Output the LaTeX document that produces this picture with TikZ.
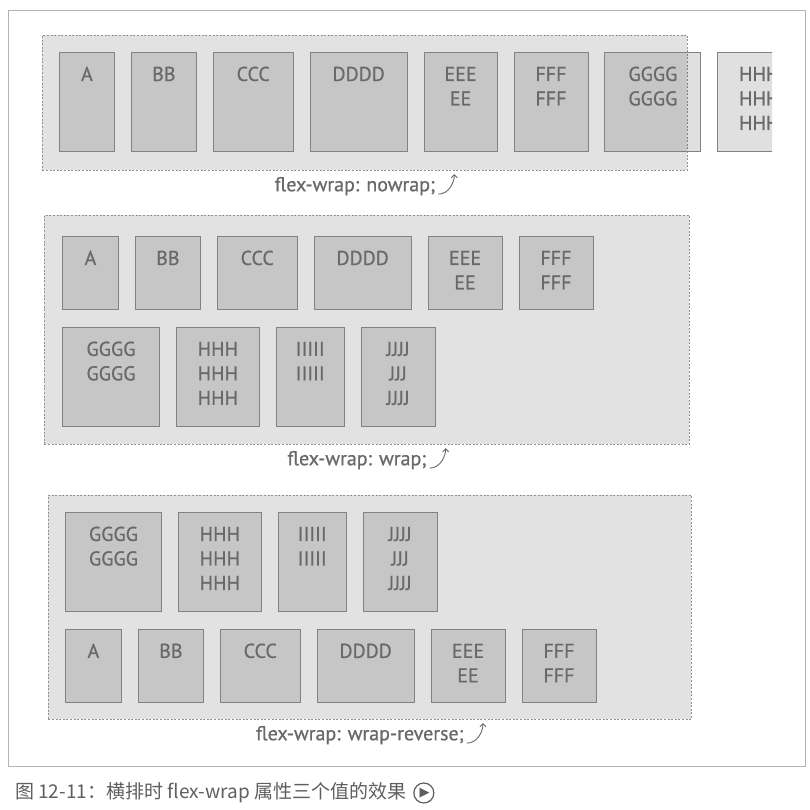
\documentclass[tikz,border=0pt]{standalone}
\usepackage{fontspec}
\setmainfont{PT Sans}
\newfontfamily\boxfont{PT Sans}[FakeBold=0.7]
\newfontfamily\cjkfont{Noto Sans CJK SC}
\newfontfamily\symbfont{DejaVu Sans}
\usepackage{tikz}
\usetikzlibrary{positioning, arrows.meta}

\definecolor{panelgray}{RGB}{226,226,226}
\definecolor{edgegray}{RGB}{130,130,130}
\definecolor{labelgray}{RGB}{105,105,105}
\definecolor{dashgray}{RGB}{145,145,145}
\definecolor{framegray}{RGB}{180,180,180}

\begin{document}
\begin{tikzpicture}[
        x=1pt, y=-1pt,
        node distance=16pt,
        panel/.style={rectangle, fill=panelgray, draw=dashgray, line width=0.8pt, dash pattern=on 2pt off 1.6pt, minimum width=645pt, anchor=north west, inner sep=0pt},
        item/.style={rectangle, draw=edgegray, line width=0.9pt, fill=black, fill opacity=0.12, text opacity=1, inner sep=0pt, align=center, text=labelgray, font=\boxfont\fontsize{20}{24.5}\selectfont, text height=28.5pt},
        tall/.style={text depth=70.5pt},
        short/.style={text depth=44.5pt},
        caption/.style={text=labelgray, font=\boxfont\fontsize{20}{24}\selectfont, inner sep=0pt},
        curl/.style={draw=labelgray, line width=0.9pt, -{Straight Barb[length=3pt, width=6pt]}},
        frame/.style={draw=framegray, line width=0.8pt}
    ]

    \path[use as bounding box, fill=white] (0,0) rectangle (809,810);
    \draw[frame] (8,10) rectangle (805,766);

    % nowrap
    \node[panel, minimum height=135pt] (nowrap) at (42,35) {};
    \node[item, tall, text width=55pt, anchor=north west] (nw-a) at ([shift={(17,17)}]nowrap.north west) {A};
    \node[item, tall, text width=65pt, right=of nw-a] (nw-bb) {BB};
    \node[item, tall, text width=80pt, right=of nw-bb] (nw-ccc) {CCC};
    \node[item, tall, text width=97pt, right=of nw-ccc] (nw-dddd) {DDDD};
    \node[item, tall, text width=73pt, right=of nw-dddd] (nw-eee) {EEE\\EE};
    \node[item, tall, text width=74pt, right=of nw-eee] (nw-fff) {FFF\\FFF};
    \node[item, tall, text width=96pt, right=of nw-fff] (nw-gggg) {GGGG\\GGGG};
    \begin{scope}
        \clip (0,0) rectangle (772,810);
        \node[item, tall, text width=83pt, right=of nw-gggg] (nw-hhh) {HHH\\HHH\\HHH};
    \end{scope}
    \node[caption, below=6pt of nowrap, xshift=-10pt] (nw-cap) {flex-wrap: nowrap;};
    \path (nw-cap.east) ++(3,8) coordinate (nw-from) ++(16,-20) coordinate (nw-to);
    \draw[curl] (nw-from) .. controls +(10,0) and +(0,9) .. (nw-to);

    % wrap
    \node[panel, minimum height=229pt] (wrap) at (44,215) {};
    \node[item, short, text width=56pt, anchor=north west] (wr-a) at ([shift={(18,21)}]wrap.north west) {A};
    \node[item, short, text width=65pt, right=of wr-a] (wr-bb) {BB};
    \node[item, short, text width=80pt, right=of wr-bb] (wr-ccc) {CCC};
    \node[item, short, text width=97pt, right=of wr-ccc] (wr-dddd) {DDDD};
    \node[item, short, text width=74pt, right=of wr-dddd] (wr-eee) {EEE\\EE};
    \node[item, short, text width=74pt, right=of wr-eee] (wr-fff) {FFF\\FFF};
    \node[item, tall, text width=97pt, below right=17pt and 0pt of wr-a.south west] (wr-gggg) {GGGG\\GGGG};
    \node[item, tall, text width=83pt, right=of wr-gggg] (wr-hhh) {HHH\\HHH\\HHH};
    \node[item, tall, text width=68pt, right=of wr-hhh] (wr-iiiii) {IIIII\\IIIII};
    \node[item, tall, text width=74pt, right=of wr-iiiii] (wr-jjjj) {JJJJ\\JJJ\\JJJJ};
    \node[caption, below=6pt of wrap, xshift=-10pt] (wr-cap) {flex-wrap: wrap;};
    \path (wr-cap.east) ++(3,8) coordinate (wr-from) ++(16,-20) coordinate (wr-to);
    \draw[curl] (wr-from) .. controls +(10,0) and +(0,9) .. (wr-to);

    % wrap-reverse
    \node[panel, minimum height=224pt, minimum width=643pt] (reverse) at (48,495) {};
    \node[item, tall, text width=96pt, anchor=north west] (rv-gggg) at ([shift={(17,17)}]reverse.north west) {GGGG\\GGGG};
    \node[item, tall, text width=83pt, right=of rv-gggg] (rv-hhh) {HHH\\HHH\\HHH};
    \node[item, tall, text width=68pt, right=of rv-hhh] (rv-iiiii) {IIIII\\IIIII};
    \node[item, tall, text width=74pt, right=of rv-iiiii] (rv-jjjj) {JJJJ\\JJJ\\JJJJ};
    \node[item, short, text width=56pt, below right=17pt and 0pt of rv-gggg.south west] (rv-a) {A};
    \node[item, short, text width=65pt, right=of rv-a] (rv-bb) {BB};
    \node[item, short, text width=80pt, right=of rv-bb] (rv-ccc) {CCC};
    \node[item, short, text width=97pt, right=of rv-ccc] (rv-dddd) {DDDD};
    \node[item, short, text width=74pt, right=of rv-dddd] (rv-eee) {EEE\\EE};
    \node[item, short, text width=74pt, right=of rv-eee] (rv-fff) {FFF\\FFF};
    \node[caption, below=6pt of reverse, xshift=-10pt] (rv-cap) {flex-wrap: wrap-reverse;};
    \path (rv-cap.east) ++(3,8) coordinate (rv-from) ++(16,-20) coordinate (rv-to);
    \draw[curl] (rv-from) .. controls +(10,0) and +(0,9) .. (rv-to);

    % figure caption
    \node[anchor=west, inner sep=0pt, text=labelgray!90!black, font=\cjkfont\fontsize{19}{20}\selectfont] (fig) at (15,793) {图 12-11：横排时 flex-wrap 属性三个值的效果};
    \node[circle, draw=labelgray!90!black, line width=1.2pt, minimum size=20pt, inner sep=0pt, right=7pt of fig, text=labelgray!90!black, font=\symbfont\fontsize{13}{13}\selectfont] (play) {\hspace{1.5pt}▶};

    \end{tikzpicture}
\end{document}
